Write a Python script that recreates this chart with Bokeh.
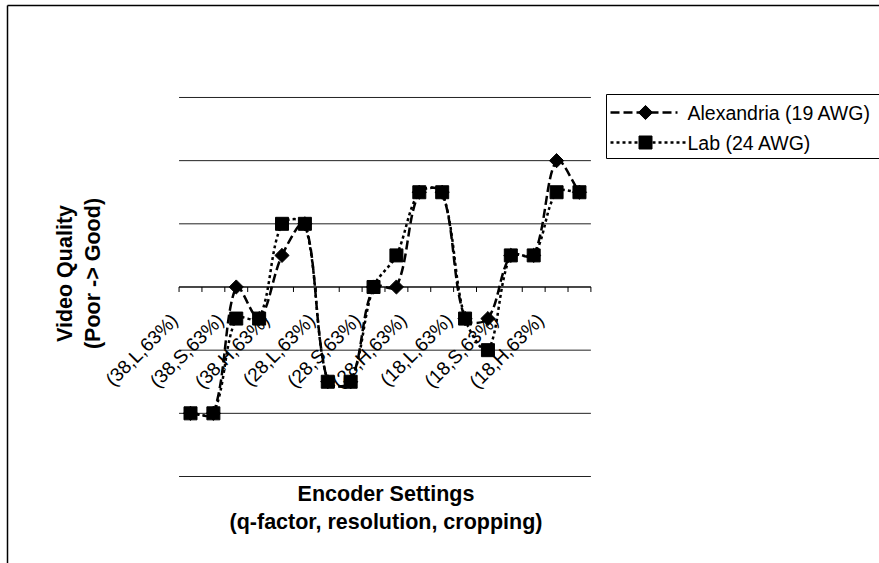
import math
from bokeh.plotting import figure
from bokeh.models import Range1d, ColumnDataSource
from bokeh.core.properties import value
from bokeh.embed import file_html
from bokeh.resources import INLINE

# ---- data ----
categories = list(range(1, 19))
tick_labels = ["(38,L,63%)", "(38,S,63%)", "(38,H,63%)",
               "(28,L,63%)", "(28,S,63%)", "(28,H,63%)",
               "(18,L,63%)", "(18,S,63%)", "(18,H,63%)"]
tick_label_positions = [1, 3, 5, 7, 9, 11, 13, 15, 17]
alexandria = [1, 1, 3, 2.5, 3.5, 4, 1.5, 1.5, 3, 3, 4.5, 4.5, 2.5, 2.5, 3.5, 3.5, 5, 4.5]
lab = [1, 1, 2.5, 2.5, 4, 4, 1.5, 1.5, 3, 3.5, 4.5, 4.5, 2.5, 2, 3.5, 3.5, 4.5, 4.5]
series_names = ["Alexandria (19 AWG)", "Lab (24 AWG)"]
grid_values = [0, 1, 2, 3, 4, 5, 6]
axis_cross = 3

# ---- layout (page pixel geometry) ----
W, H = 879, 563
ORIGIN_X, ORIGIN_Y = 0, 0
CAT1_PX, CAT_STEP = 190.0, 22.88
V0_PY, V_STEP = 476.0, 63.17

def px2x(px):
    return 1 + (px - CAT1_PX) / CAT_STEP

def py2y(py):
    return (V0_PY - py) / V_STEP

FONT = value("Liberation Sans")

p = figure(width=W, height=H, output_backend="svg", toolbar_location=None,
           x_axis_type=None, y_axis_type=None, min_border=0,
           x_range=Range1d(px2x(ORIGIN_X), px2x(ORIGIN_X + W)),
           y_range=Range1d(py2y(ORIGIN_Y + H), py2y(ORIGIN_Y)))
p.outline_line_color = None
p.grid.visible = False
p.background_fill_color = "white"
p.border_fill_color = "white"

# outer chart border (top and left visible)
xr1 = p.x_range.end
yr0 = p.y_range.start
p.segment(x0=[px2x(7), px2x(7)], y0=[py2y(5), py2y(5)], x1=[xr1, px2x(7)], y1=[py2y(5), yr0],
          line_color="black", line_width=1.5)

# gridlines
xl, xh = categories[0] - 0.5, categories[-1] + 0.5
p.segment(x0=[xl] * len(grid_values), y0=grid_values, x1=[xh] * len(grid_values), y1=grid_values,
          line_color="#222222", line_width=1)

# category axis at the crossing value with tick marks at category boundaries
bounds = [c - 0.5 for c in categories] + [categories[-1] + 0.5]
tick_len = 5 / V_STEP
p.segment(x0=bounds, y0=[axis_cross] * len(bounds), x1=bounds,
          y1=[axis_cross - tick_len] * len(bounds), line_color="black", line_width=1)
p.segment(x0=[xl], y0=[axis_cross], x1=[xh], y1=[axis_cross], line_color="black", line_width=1.2)

# tick labels (rotated)
lab_src = ColumnDataSource(dict(
    x=[t - 16 / CAT_STEP for t in tick_label_positions],
    y=[axis_cross - 30 / V_STEP] * len(tick_label_positions),
    text=tick_labels))
p.text(x="x", y="y", text="text", source=lab_src, angle=math.pi / 4,
       text_align="right", text_baseline="middle", text_font=FONT,
       text_font_size="19px", text_color="black")

# smoothed lines (Bezier smoothing, tangent weighted by segment length in pixels)
def bezier_source(xs, ys):
    n = len(xs)
    P = [(x * CAT_STEP, y * V_STEP) for x, y in zip(xs, ys)]

    def dist(a, b):
        return math.hypot(a[0] - b[0], a[1] - b[1])

    def ctrl(i, toward_next):
        prev_i, next_i = max(i - 1, 0), min(i + 1, n - 1)
        tx = P[next_i][0] - P[prev_i][0]
        ty = P[next_i][1] - P[prev_i][1]
        d_prev = dist(P[prev_i], P[i])
        d_next = dist(P[i], P[next_i])
        tot = d_prev + d_next
        if tot == 0:
            return P[i]
        f = (d_next if toward_next else d_prev) / tot / 3
        s = 1 if toward_next else -1
        return (P[i][0] + s * f * tx, P[i][1] + s * f * ty)

    d = dict(x0=[], y0=[], x1=[], y1=[], cx0=[], cy0=[], cx1=[], cy1=[])
    for i in range(n - 1):
        c0 = ctrl(i, True)
        c1 = ctrl(i + 1, False)
        d["x0"].append(xs[i]); d["y0"].append(ys[i])
        d["x1"].append(xs[i + 1]); d["y1"].append(ys[i + 1])
        d["cx0"].append(c0[0] / CAT_STEP); d["cy0"].append(c0[1] / V_STEP)
        d["cx1"].append(c1[0] / CAT_STEP); d["cy1"].append(c1[1] / V_STEP)
    return ColumnDataSource(d)

A_DASH, L_DASH = "9 4", "3 3"
LW = 2.5
p.bezier(x0="x0", y0="y0", x1="x1", y1="y1", cx0="cx0", cy0="cy0", cx1="cx1", cy1="cy1",
         source=bezier_source(categories, alexandria), line_color="black",
         line_width=LW, line_dash=A_DASH)
p.scatter(categories, alexandria, marker="square", angle=math.pi / 4, size=10,
          fill_color="black", line_color="black")
p.bezier(x0="x0", y0="y0", x1="x1", y1="y1", cx0="cx0", cy0="cy0", cx1="cx1", cy1="cy1",
         source=bezier_source(categories, lab), line_color="black",
         line_width=LW, line_dash=L_DASH)
p.scatter(categories, lab, marker="square", size=13,
          fill_color="black", line_color="black")

# legend (drawn by hand so the diamond marker is shown correctly)
p.quad(left=[px2x(606)], right=[px2x(890)], top=[py2y(94)], bottom=[py2y(158)],
       fill_color="white", line_color="black", line_width=1)
row_y = [py2y(112), py2y(142)]
p.segment(x0=[px2x(610)], y0=[row_y[0]], x1=[px2x(677)], y1=[row_y[0]],
          line_color="black", line_width=LW, line_dash=A_DASH)
p.segment(x0=[px2x(610)], y0=[row_y[1]], x1=[px2x(686)], y1=[row_y[1]],
          line_color="black", line_width=LW, line_dash=L_DASH)
p.scatter([px2x(645)], [row_y[0]], marker="square", angle=math.pi / 4, size=10,
          fill_color="black", line_color="black")
p.scatter([px2x(645)], [row_y[1]], marker="square", size=13,
          fill_color="black", line_color="black")
p.rect([px2x(681.5)], [row_y[0]], width=7 / CAT_STEP, height=20 / V_STEP,
       fill_color="white", line_color=None)
p.text(x=[px2x(687)] * 2, y=row_y, text=series_names, text_align="left",
       text_baseline="middle", text_font=FONT, text_font_size="19.5px", text_color="black")

# axis titles
p.text(x=[px2x(385.5)] * 2, y=[py2y(493), py2y(521)],
       text=["Encoder Settings", "(q-factor, resolution, cropping)"],
       text_align="center", text_baseline="middle", text_font=FONT,
       text_font_style="bold", text_font_size="21.5px", text_color="black")
p.text(x=[px2x(64.5), px2x(92.5)], y=[py2y(273)] * 2,
       text=["Video Quality", "(Poor -> Good)"], angle=math.pi / 2,
       text_align="center", text_baseline="middle", text_font=FONT,
       text_font_style="bold", text_font_size="21.5px", text_color="black")

open("out.html", "w").write(file_html(p, INLINE))
